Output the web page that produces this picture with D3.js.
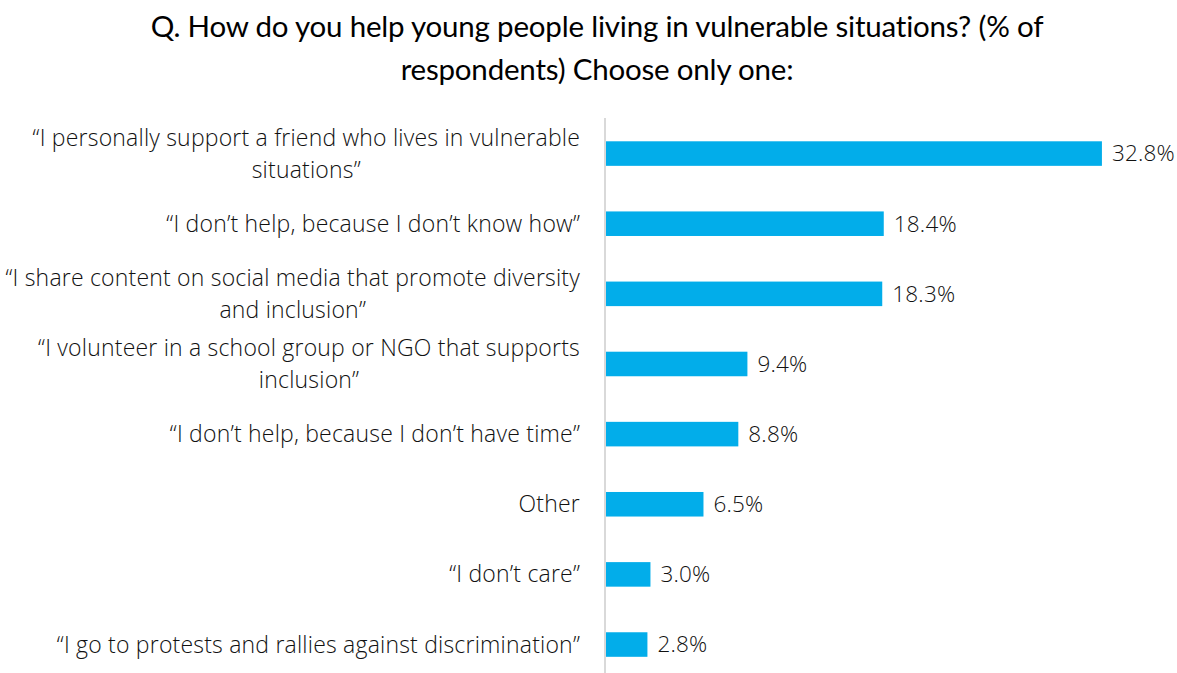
<!DOCTYPE html>
<html>
<head>
<meta charset="utf-8">
<script src="https://cdn.jsdelivr.net/npm/d3@7"></script>
<style>
  html, body { margin: 0; padding: 0; background: #fff; }
  svg { display: block; }
  text { font-family: "Open Sans", Lato, sans-serif; }
</style>
</head>
<body>
<svg id="chart" width="1177" height="673"></svg>
<script>
// Survey answers (top to bottom) and their share of respondents
const categories = [
  "“I personally support a friend who lives in vulnerable\nsituations”",
  "“I don’t help, because I don’t know how”",
  "“I share content on social media that promote diversity\nand inclusion”",
  "“I volunteer in a school group or NGO that supports\ninclusion”",
  "“I don’t help, because I don’t have time”",
  "Other",
  "“I don’t care”",
  "“I go to protests and rallies against discrimination”"
];
const values = [32.8, 18.4, 18.3, 9.4, 8.8, 6.5, 3.0, 2.8];
const valueLabels = ["32.8%", "18.4%", "18.3%", "9.4%", "8.8%", "6.5%", "3.0%", "2.8%"];
const titleLines = [
  "Q. How do you help young people living in vulnerable situations? (% of",
  "respondents) Choose only one:"
];

const svg = d3.select("#chart");
const axisX = 605;

const x = d3.scaleLinear().domain([0, 36.3]).range([axisX, axisX + 36.3 * 15.15]);
const y = d3.scaleBand().domain(d3.range(categories.length))
  .range([118.5, 679.6]).paddingInner(0.65).paddingOuter(0.325);

// Title
svg.append("g").selectAll("text").data(titleLines).join("text")
  .attr("x", 597).attr("y", (d, i) => 37 + i * 43)
  .attr("text-anchor", "middle")
  .style("font-family", "Lato, sans-serif")
  .attr("font-size", 29.5).attr("fill", "#000")
  .attr("letter-spacing", -0.2)
  .text(d => d);

// Bars
svg.append("g").selectAll("rect").data(values).join("rect")
  .attr("x", x(0))
  .attr("y", (d, i) => y(i))
  .attr("width", d => x(d) - x(0))
  .attr("height", y.bandwidth())
  .attr("fill", "#02ADEA");

// Vertical category axis line
svg.append("line")
  .attr("x1", axisX).attr("x2", axisX)
  .attr("y1", 118).attr("y2", 673)
  .attr("stroke", "#d9d9d9").attr("stroke-width", 2);

// Value labels
svg.append("g").selectAll("text").data(values).join("text")
  .attr("x", d => x(d) + 10)
  .attr("y", (d, i) => y(i) + y.bandwidth() / 2)
  .attr("dy", "0.35em")
  .attr("font-size", 22.5).attr("font-weight", 300).attr("fill", "#111")
  .attr("letter-spacing", 0.2)
  .text((d, i) => valueLabels[i]);

// Category labels: right-aligned blocks with centered lines
const lblRight = 580, lineGap = 32;
const lg = svg.append("g");
categories.forEach((c, i) => {
  const lines = c.split("\n");
  const cy = y(i) + y.bandwidth() / 2;
  const ts = lg.append("g").selectAll("text").data(lines).join("text")
    .attr("y", (d, j) => cy + (j - (lines.length - 1) / 2) * lineGap)
    .attr("dy", "0.35em")
    .attr("font-size", 23).attr("font-weight", 300).attr("fill", "#111")
    .attr("letter-spacing", 0.2)
    .attr("text-anchor", "middle")
    .text(d => d);
  let maxW = 0;
  ts.each(function () { maxW = Math.max(maxW, this.getComputedTextLength()); });
  ts.attr("x", lblRight - maxW / 2);
});
</script>
</body>
</html>
